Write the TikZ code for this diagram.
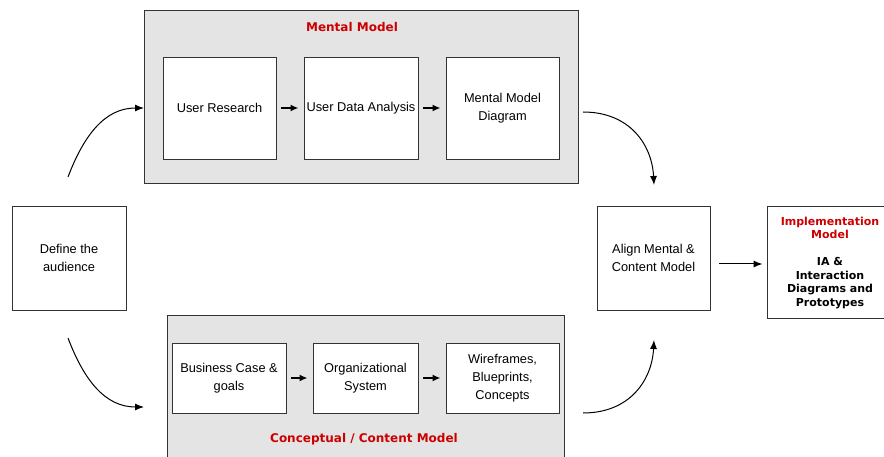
\documentclass[tikz,border=0pt]{standalone}
\usepackage{fontspec}
\setmainfont{Liberation Sans}
\newfontfamily\titlefont{DejaVu Sans}
\usetikzlibrary{arrows.meta}
\definecolor{titlered}{RGB}{204,0,0}
\definecolor{panelgray}{RGB}{228,228,228}
\definecolor{boxline}{RGB}{51,51,51}
\tikzset{
  panel/.style={draw=boxline, fill=panelgray, line width=0.8pt, inner sep=0pt},
  stepbox/.style={draw=boxline, fill=white, line width=0.9pt, inner sep=0pt, align=center,
    font=\fontsize{12.8}{18}\selectfont},
  paneltitle/.style={text=titlered, inner sep=0pt, font=\titlefont\bfseries\fontsize{12}{14}\selectfont},
  impltext/.style={align=center, inner sep=0pt, font=\titlefont\bfseries\fontsize{11}{13.5}\selectfont},
  flow/.style={-{Latex[length=8pt,width=7pt]}, line width=1.6pt, shorten <=5pt, shorten >=5pt},
  curve/.style={-{Latex[length=9pt,width=7pt]}, line width=1pt},
}
\begin{document}
\begin{tikzpicture}[x=1pt,y=-1pt]
\useasboundingbox (0,0) rectangle (884,457);
\fill[white] (0,0) rectangle (884,457);

% panels
\node[panel, minimum width=434pt, minimum height=173pt] (mental) at (361,96.5) {};
\node[panel, minimum width=397pt, minimum height=154pt] (concept) at (365.5,392) {};
\node[paneltitle] (mtitle) at (352,27) {Mental Model};
\node[paneltitle] (ctitle) at (364,439) {Conceptual / Content Model};

% mental model steps
\node[stepbox, minimum width=113pt, minimum height=102pt] (ur) at (219.5,108) {User Research};
\node[stepbox, minimum width=114pt, minimum height=102pt] (uda) at (361,108) {User Data Analysis};
\node[stepbox, minimum width=113pt, minimum height=102pt] (mmd) at (502.5,108) {Mental Model\\Diagram};

% conceptual steps
\node[stepbox, minimum width=114pt, minimum height=70pt] (bc) at (229,378) {Business Case \&\\goals};
\node[stepbox, minimum width=105pt, minimum height=70pt] (os) at (365.5,378) {Organizational\\System};
\node[stepbox, minimum width=113pt, minimum height=70pt] (wf) at (502.5,378) {Wireframes,\\Blueprints,\\Concepts};

% outer boxes
\node[stepbox, minimum width=114pt, minimum height=104pt] (aud) at (69,258) {Define the\\audience};
\node[stepbox, minimum width=113pt, minimum height=104pt] (align) at (653.5,258) {Align Mental \&\\Content Model};
\node[stepbox, minimum width=130pt, minimum height=112pt] (impl) at (832,262) {};
\node[impltext] (impltxt) at (830,263) {\textcolor{titlered}{Implementation}\\\textcolor{titlered}{Model}\\[13.5pt]IA \&\\Interaction\\Diagrams and\\Prototypes};

% straight flows
\draw[flow] (ur) -- (uda);
\draw[flow] (uda) -- (mmd);
\draw[flow] (bc) -- (os);
\draw[flow] (os) -- (wf);
\draw[curve, shorten <=9pt, shorten >=4pt] (align.east |- 0,264) -- (impl.west |- 0,264);

% curved connectors
\coordinate (tlS) at (68,177);
\coordinate (tlE) at (144,108);
\coordinate (blS) at (68,338);
\coordinate (blE) at (144,407);
\coordinate (trS) at (583,112);
\coordinate (trE) at (654,185);
\coordinate (brS) at (583,413);
\coordinate (brE) at (654,340);
\draw[curve] (tlS) .. controls (84,135) and (105,108) .. (tlE);
\draw[curve] (blS) .. controls (84,380) and (105,407) .. (blE);
\draw[curve] (trS) .. controls (630,112) and (652,145) .. (trE);
\draw[curve] (brS) .. controls (630,413) and (652,380) .. (brE);
\end{tikzpicture}
\end{document}
